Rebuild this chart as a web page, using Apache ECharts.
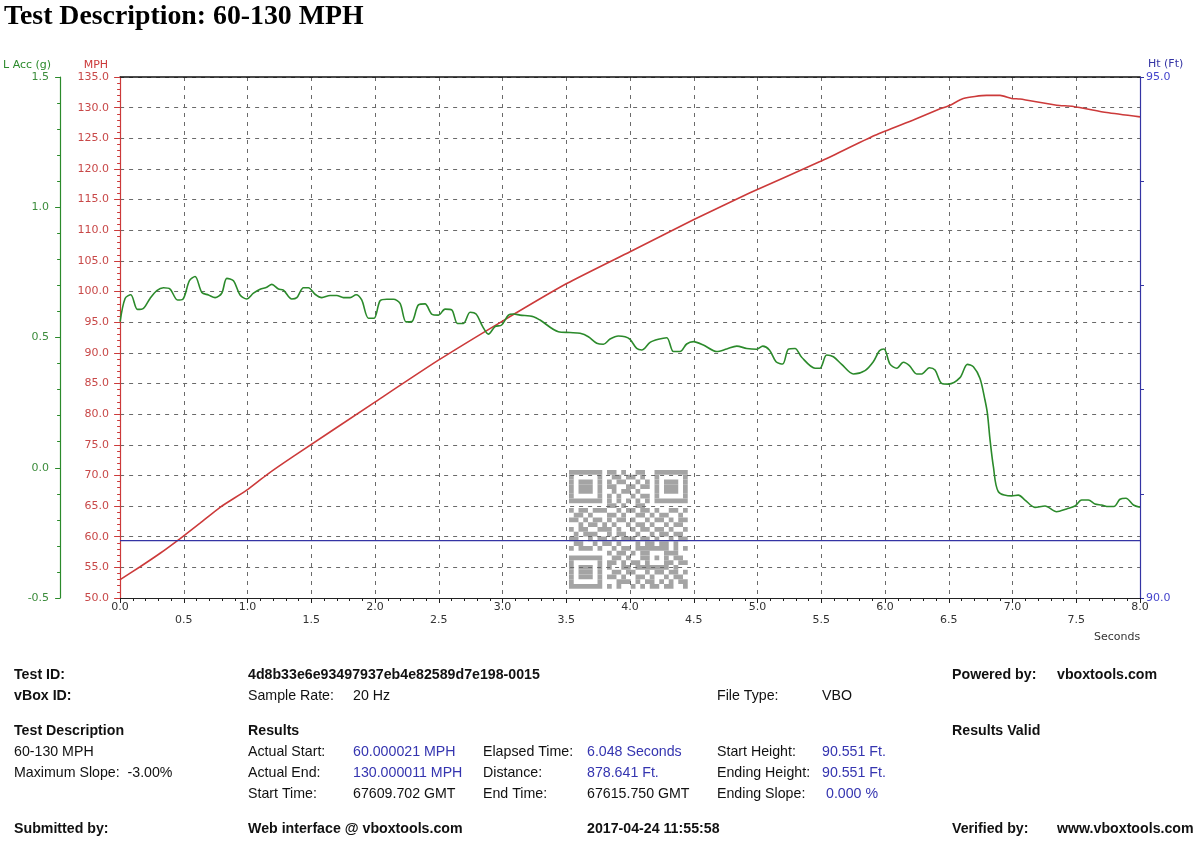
<!DOCTYPE html>
<html>
<head>
<meta charset="utf-8">
<script src="https://cdn.jsdelivr.net/npm/echarts@6/dist/echarts.min.js"></script>
<style>
html, body { margin: 0; padding: 0; background: #fff; }
#main { width: 1200px; height: 846px; }
</style>
</head>
<body>
<div id="main"></div>
<script>
// values
var accTime = [0.000, 0.039, 0.084, 0.136, 0.183, 0.235, 0.288, 0.340, 0.392, 0.450, 0.492, 0.544, 0.588, 0.641, 0.693, 0.745, 0.797, 0.837, 0.889, 0.941,
    0.993, 1.046, 1.098, 1.150, 1.190, 1.242, 1.281, 1.346, 1.386, 1.438, 1.477, 1.529, 1.582, 1.647, 1.699, 1.752, 1.804, 1.851, 1.895, 1.948,
    1.992, 2.039, 2.092, 2.144, 2.196, 2.243, 2.288, 2.340, 2.392, 2.444, 2.497, 2.549, 2.601, 2.646, 2.693, 2.745, 2.792, 2.844, 2.889, 2.941,
    2.993, 3.046, 3.085, 3.137, 3.242, 3.294, 3.438, 3.529, 3.608, 3.673, 3.739, 3.791, 3.843, 3.908, 3.961, 4.000, 4.052, 4.092, 4.157, 4.222,
    4.288, 4.340, 4.392, 4.444, 4.497, 4.575, 4.680, 4.758, 4.837, 4.915, 4.993, 5.041, 5.093, 5.145, 5.197, 5.242, 5.294, 5.346, 5.451, 5.490,
    5.542, 5.595, 5.660, 5.752, 5.843, 5.908, 5.956, 5.992, 6.039, 6.092, 6.144, 6.191, 6.248, 6.288, 6.348, 6.392, 6.444, 6.497, 6.588, 6.646,
    6.693, 6.745, 6.784, 6.803, 6.824, 6.850, 6.889, 6.993, 7.046, 7.098, 7.176, 7.255, 7.346, 7.425, 7.490, 7.542, 7.595, 7.647, 7.699, 7.752,
    7.796, 7.843, 7.890, 7.948, 8.000];
var accG = [0.561, 0.650, 0.664, 0.608, 0.612, 0.650, 0.680, 0.691, 0.686, 0.644, 0.647, 0.718, 0.734, 0.673, 0.663, 0.653, 0.670, 0.727, 0.718, 0.663,
    0.648, 0.670, 0.685, 0.693, 0.704, 0.686, 0.682, 0.648, 0.653, 0.691, 0.691, 0.666, 0.653, 0.661, 0.661, 0.653, 0.653, 0.664, 0.644, 0.574,
    0.574, 0.641, 0.647, 0.647, 0.631, 0.560, 0.561, 0.625, 0.629, 0.590, 0.586, 0.609, 0.606, 0.554, 0.554, 0.597, 0.590, 0.542, 0.513, 0.542,
    0.548, 0.586, 0.590, 0.586, 0.580, 0.567, 0.522, 0.519, 0.516, 0.503, 0.478, 0.474, 0.494, 0.506, 0.503, 0.493, 0.458, 0.452, 0.481, 0.493,
    0.499, 0.446, 0.446, 0.475, 0.484, 0.471, 0.446, 0.456, 0.467, 0.458, 0.455, 0.467, 0.452, 0.407, 0.398, 0.455, 0.458, 0.424, 0.382, 0.382,
    0.433, 0.426, 0.397, 0.360, 0.373, 0.407, 0.449, 0.456, 0.398, 0.382, 0.405, 0.392, 0.360, 0.360, 0.384, 0.375, 0.324, 0.321, 0.346, 0.397,
    0.388, 0.343, 0.260, 0.209, 0.106, 0.004, -0.092, -0.108, -0.105, -0.124, -0.152, -0.147, -0.169, -0.158, -0.147, -0.124, -0.124, -0.139, -0.143, -0.149,
    -0.149, -0.121, -0.117, -0.143, -0.152];

var mphTime = [0, 0.157, 0.314, 0.471, 0.627, 0.784, 0.993, 1.150, 1.359, 1.987, 2.497, 2.993, 3.503, 4.000, 4.497, 4.941,
    5.490, 5.922, 6.222, 6.418, 6.510, 6.614, 6.797, 6.902, 6.993, 7.059, 7.346, 7.477, 7.739, 8.000];
var mph = [53.0, 55.1, 57.3, 59.7, 62.2, 64.8, 67.6, 70.1, 73.1, 81.8, 88.8, 95.1, 101.3, 106.5, 111.7, 116.1,
    121.2, 125.5, 128.0, 129.7, 130.4, 131.5, 132.0, 132.0, 131.5, 131.4, 130.4, 130.2, 129.2, 128.5];

var htTime = [0, 8];
var htFt = [90.551, 90.551];

// background QR watermark modules
var qrRows = [
    '1111111011010011001111111',
    '1000001001101101001000001',
    '1011101010110010101011101',
    '1011101011001101101011101',
    '1011101001011010001011101',
    '1000001010100101101000001',
    '1111111010101010101111111',
    '0000000011010011000000000',
    '1011011100101101101001101',
    '0110100011010011010110010',
    '1101011010110100101101011',
    '0010110101001011010010110',
    '1011001110100101101101001',
    '0101110010110010010110110',
    '1100101101011101101001011',
    '0110010110100010110110100',
    '1011101001011011111110101',
    '0000000010110101100011100',
    '1111111001101001101010110',
    '1000001011010110100011011',
    '1011101010011011111110100',
    '1011101001101100101101101',
    '1011101011010011010010110',
    '1000001000111010110101011',
    '1111111010100101011011001'
];

function pairs(xs, ys) {
    return xs.map(function (x, i) { return [x, ys[i]]; });
}

var GREEN = '#2b8a2b';
var RED = '#cc3a3a';
var BLUE = '#3434a4';
var GRIDLINE = { show: true, lineStyle: { color: '#6a6a6a', width: 1, type: [4, 5] } };

var graphics = [];

// QR
var qx = 569, qy = 470, qs = 4.75;
qrRows.forEach(function (row, r) {
    var c = 0;
    while (c < row.length) {
        if (row[c] === '1') {
            var s = c;
            while (c < row.length && row[c] === '1') c++;
            graphics.push({
                type: 'rect', z: -10, silent: true,
                shape: { x: qx + s * qs, y: qy + r * qs, width: (c - s) * qs, height: qs },
                style: { fill: '#a4a4a4' }
            });
        } else {
            c++;
        }
    }
});

graphics.push({
    type: 'text', left: 4, top: 3,
    style: { text: 'Test Description: 60-130 MPH', font: 'bold 27.8px "Liberation Serif", serif', fill: '#000' }
});
graphics.push({
    type: 'text', x: 1094, y: 637,
    style: { text: 'Seconds', font: '11px "DejaVu Sans", sans-serif', fill: '#333', verticalAlign: 'middle' }
});

// report table under the chart
var tableRows = [
    [675, [[14, 'Test ID:', 'b'], [248, '4d8b33e6e93497937eb4e82589d7e198-0015', 'b'], [952, 'Powered by:', 'b'], [1057, 'vboxtools.com', 'b']]],
    [696, [[14, 'vBox ID:', 'b'], [248, 'Sample Rate:', 'n'], [353, '20 Hz', 'n'], [717, 'File Type:', 'n'], [822, 'VBO', 'n']]],
    [731, [[14, 'Test Description', 'b'], [248, 'Results', 'b'], [952, 'Results Valid', 'b']]],
    [752, [[14, '60-130 MPH', 'n'], [248, 'Actual Start:', 'n'], [353, '60.000021 MPH', 'v'], [483, 'Elapsed Time:', 'n'], [587, '6.048 Seconds', 'v'], [717, 'Start Height:', 'n'], [822, '90.551 Ft.', 'v']]],
    [773, [[14, 'Maximum Slope:  -3.00%', 'n'], [248, 'Actual End:', 'n'], [353, '130.000011 MPH', 'v'], [483, 'Distance:', 'n'], [587, '878.641 Ft.', 'v'], [717, 'Ending Height:', 'n'], [822, '90.551 Ft.', 'v']]],
    [794, [[248, 'Start Time:', 'n'], [353, '67609.702 GMT', 'n'], [483, 'End Time:', 'n'], [587, '67615.750 GMT', 'n'], [717, 'Ending Slope:', 'n'], [826, '0.000 %', 'v']]],
    [829, [[14, 'Submitted by:', 'b'], [248, 'Web interface @ vboxtools.com', 'b'], [587, '2017-04-24 11:55:58', 'b'], [952, 'Verified by:', 'b'], [1057, 'www.vboxtools.com', 'b']]]
];
tableRows.forEach(function (row) {
    row[1].forEach(function (cell) {
        graphics.push({
            type: 'text', x: cell[0], y: row[0],
            style: {
                text: cell[1],
                font: (cell[2] === 'b' ? 'bold ' : '') + '14.2px "Liberation Sans", Arial, sans-serif',
                fill: cell[2] === 'v' ? '#3535b0' : '#111',
                verticalAlign: 'middle'
            }
        });
    });
});

var myChart = echarts.init(document.getElementById('main'));

var option = {
    animation: false,
    backgroundColor: '#fff',
    textStyle: { fontFamily: '"DejaVu Sans", sans-serif' },
    grid: { left: 120, right: 60, top: 77, bottom: 248, containLabel: false },
    xAxis: [
        {
            type: 'value', min: 0, max: 8, interval: 0.5,
            axisLine: { show: true, onZero: false, lineStyle: { color: '#222', width: 1 } },
            axisTick: { show: true, length: 5, lineStyle: { color: '#222' } },
            minorTick: { show: true, splitNumber: 5, length: 3, lineStyle: { color: '#222' } },
            axisLabel: {
                color: '#333', fontSize: 11, margin: 3, lineHeight: 13,
                formatter: function (v) {
                    var s = v.toFixed(1);
                    return (Math.round(v * 2) % 2) ? '\n' + s : s;
                }
            },
            splitLine: GRIDLINE
        },
        {
            type: 'value', min: 0, max: 8, position: 'top',
            axisLine: { show: true, onZero: false, lineStyle: { color: '#111', width: 1.5 } },
            axisTick: { show: false }, axisLabel: { show: false }, splitLine: { show: false }
        }
    ],
    yAxis: [
        {
            type: 'value', min: 50, max: 135, interval: 5, position: 'left',
            name: 'MPH', nameLocation: 'end', nameGap: 6,
            nameTextStyle: { color: RED, fontSize: 11, align: 'right', padding: [0, 12, 0, 0] },
            axisLine: { show: true, onZero: false, lineStyle: { color: RED, width: 1.2 } },
            axisTick: { show: true, length: 6, lineStyle: { color: RED } },
            minorTick: { show: true, splitNumber: 5, length: 3, lineStyle: { color: RED } },
            axisLabel: { color: '#c84848', fontSize: 11, margin: 11, formatter: function (v) { return v.toFixed(1); } },
            splitLine: GRIDLINE
        },
        {
            type: 'value', min: -0.5, max: 1.5, interval: 0.5, position: 'left', offset: 60,
            name: 'L Acc (g)', nameLocation: 'end', nameGap: 6,
            nameTextStyle: { color: GREEN, fontSize: 11, align: 'right', padding: [0, 9, 0, 0] },
            axisLine: { show: true, onZero: false, lineStyle: { color: GREEN, width: 1.2 } },
            axisTick: { show: true, length: 5, lineStyle: { color: GREEN } },
            minorTick: { show: true, splitNumber: 5, length: 3, lineStyle: { color: GREEN } },
            axisLabel: { color: '#3c8c3c', fontSize: 11, margin: 11, formatter: function (v) { return v.toFixed(1); } },
            splitLine: { show: false }
        },
        {
            type: 'value', min: 90, max: 95, interval: 1, position: 'right',
            name: 'Ht (Ft)', nameLocation: 'end', nameGap: 7,
            nameTextStyle: { color: BLUE, fontSize: 11, align: 'left', padding: [0, 0, 0, 8] },
            axisLine: { show: true, onZero: false, lineStyle: { color: BLUE, width: 1.2 } },
            axisTick: { show: true, length: 4, lineStyle: { color: BLUE } },
            axisLabel: {
                color: '#4444cc', fontSize: 11, margin: 6,
                formatter: function (v) { return (v === 90 || v === 95) ? v.toFixed(1) : ''; }
            },
            splitLine: { show: false }
        }
    ],
    series: [
        {
            name: 'MPH', type: 'line', yAxisIndex: 0, data: pairs(mphTime, mph),
            showSymbol: false, symbol: 'none', z: 3, smooth: 0.2,
            lineStyle: { color: RED, width: 1.6 }, itemStyle: { color: RED }
        },
        {
            name: 'L Acc', type: 'line', yAxisIndex: 1, data: pairs(accTime, accG),
            showSymbol: false, symbol: 'none', z: 3, smooth: 0.3,
            lineStyle: { color: GREEN, width: 1.6 }, itemStyle: { color: GREEN }
        },
        {
            name: 'Ht', type: 'line', yAxisIndex: 2, data: pairs(htTime, htFt),
            showSymbol: false, symbol: 'none', z: 3,
            lineStyle: { color: BLUE, width: 1.4 }, itemStyle: { color: BLUE }
        }
    ],
    graphic: graphics
};

myChart.setOption(option);
</script>
</body>
</html>
